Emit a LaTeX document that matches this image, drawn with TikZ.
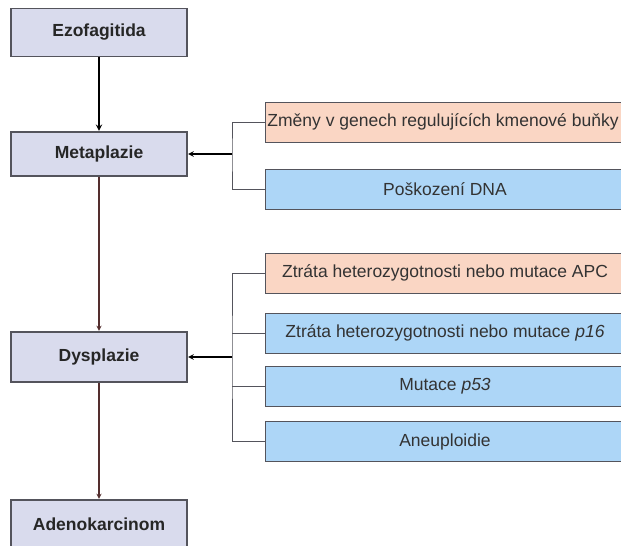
\documentclass[tikz,border=0pt]{standalone}
\usepackage{fontspec}
\setmainfont{Liberation Sans}
\usepackage{tikz}
\usetikzlibrary{calc}

\begin{document}
\begin{tikzpicture}[x=1pt,y=-1pt]
  \definecolor{stage}{rgb}{0.85,0.86,0.93};
  \definecolor{peach}{rgb}{0.98,0.84,0.77};
  \definecolor{sky}  {rgb}{0.68,0.84,0.97};
  \definecolor{frame}{rgb}{0.33,0.33,0.36};
  \definecolor{rust} {rgb}{0.33,0.18,0.18};
  \tikzstyle{stagebox}=[rectangle,draw=frame,line width=1.2pt,fill=stage,minimum width=176,minimum height=48,text=black!85,font=\fontsize{17.5}{21}\selectfont\bfseries]
  \tikzstyle{causebox}=[rectangle,draw=frame,line width=1pt,minimum width=360,minimum height=40,inner sep=0pt,text=black!80,font=\fontsize{17.5}{21}\selectfont]
  \tikzstyle{link}=[draw=frame,line width=1pt]
  \tikzstyle{pointer}=[->,>=stealth,line width=1.2pt,shorten >=0.5pt]
  \clip (0,0) rectangle (621,546);
  \fill[white] (0,0) rectangle (621,546);
  \node (ezo)   at (99,32.5) [stagebox] {Ezofagitida};
  \node (meta)  at (99,154)  [stagebox,minimum height=44] {Metaplazie};
  \node (dys)   at (99,357)  [stagebox,minimum height=50] {Dysplazie};
  \node (adeno) at (99,524)  [stagebox] {Adenokarcinom};
  \node (kmen) at (443,122)   [causebox,fill=peach,anchor=center,xshift=2pt] {\hspace*{-4pt}Změny v genech regulujících kmenové buňky};
  \node (dna)  at (445,189.5) [causebox,fill=sky]   {Poškození DNA};
  \node (apc)  at (445,273)   [causebox,fill=peach] {Ztráta heterozygotnosti nebo mutace APC};
  \node (p16)  at (445,333)   [causebox,fill=sky]   {Ztráta heterozygotnosti nebo mutace \textit{p16}};
  \node (p53)  at (445,386.5) [causebox,fill=sky]   {Mutace \textit{p53}};
  \node (aneu) at (445,441.5) [causebox,fill=sky]   {Aneuploidie};
  \coordinate (bm) at (232,154);
  \coordinate (bd) at (232,357);
  \draw[link] (kmen.west) -| (bm) |- (dna.west);
  \draw[link] (apc.west) -| (bd) |- (aneu.west);
  \draw[link] (p16.west) -- (p16.west -| bd);
  \draw[link] (p53.west) -- (p53.west -| bd);
  \draw[pointer,line width=1.5pt] (bm) -- (meta.east);
  \draw[pointer,line width=1.5pt] (bd) -- (dys.east);
  \draw[pointer,line width=1.8pt] (ezo) -- (meta);
  \draw[pointer,draw=rust,line width=1.3pt] (meta) -- (dys);
  \draw[pointer,draw=rust,line width=1.3pt] (dys) -- (adeno);
\end{tikzpicture}
\end{document}
